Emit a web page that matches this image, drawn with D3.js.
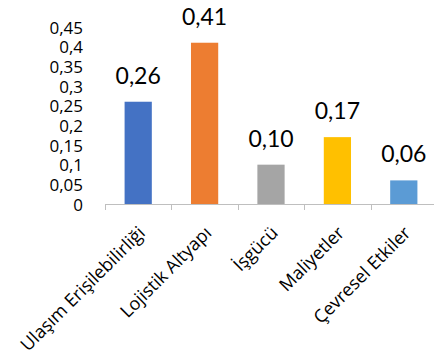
<!DOCTYPE html>
<html>
<head>
<meta charset="utf-8">
<script src="https://cdn.jsdelivr.net/npm/d3@7"></script>
<style>
  html, body { margin: 0; padding: 0; background: #fff; }
  svg { display: block; }
  text { fill: #000; }
</style>
</head>
<body>
<svg id="chart" width="434" height="363"></svg>
<script>
// Criteria and their weights
const categories = ["Ulaşım Erişilebilirliği", "Lojistik Altyapı", "İşgücü", "Maliyetler", "Çevresel Etkiler"];
const values = [0.26, 0.41, 0.10, 0.17, 0.06];
const colors = ["#4472C4", "#ED7D31", "#A5A5A5", "#FFC000", "#5B9BD5"];
const yTicks = [0, 0.05, 0.1, 0.15, 0.2, 0.25, 0.3, 0.35, 0.4, 0.45];

const svg = d3.select("#chart");
const plot = { left: 105, right: 437, top: 27, bottom: 204 };

const x = d3.scaleBand().domain(categories).range([plot.left, plot.right]).padding(0);
const y = d3.scaleLinear().domain([0, 0.45]).range([plot.bottom, plot.top]);

const comma = d => d3.format(".2f")(d).replace(".", ",");
const tickFmt = d => (d === 0 ? "0" : String(+d.toFixed(2)).replace(".", ","));

// Y axis: labels only
const yAxis = svg.append("g")
  .attr("transform", `translate(${plot.left},0)`)
  .call(d3.axisLeft(y).tickValues(yTicks).tickFormat(tickFmt).tickSize(0).tickPadding(22));
yAxis.select(".domain").remove();
yAxis.selectAll("text")
  .style("font-family", "'Open Sans', sans-serif")
  .style("font-size", "17px")
  .attr("dy", "0.36em")
  .attr("fill", "#000");

// Bars
const barW = x.bandwidth() * 0.41;
svg.append("g").selectAll("rect")
  .data(categories)
  .join("rect")
  .attr("x", (d) => x(d) + x.bandwidth() / 2 - barW / 2)
  .attr("y", (d, i) => y(values[i]))
  .attr("width", barW)
  .attr("height", (d, i) => y(0) - y(values[i]))
  .attr("fill", (d, i) => colors[i]);

// Value labels
svg.append("g").selectAll("text")
  .data(categories)
  .join("text")
  .attr("x", (d) => x(d) + x.bandwidth() / 2)
  .attr("y", (d, i) => y(values[i]) - 18)
  .attr("text-anchor", "middle")
  .style("font-family", "Lato, sans-serif")
  .style("font-size", "23px")
  .text((d, i) => comma(values[i]));

// X axis line with ticks at band boundaries
const xAxisG = svg.append("g");
xAxisG.append("line")
  .attr("x1", plot.left).attr("x2", plot.right)
  .attr("y1", plot.bottom + 0.5).attr("y2", plot.bottom + 0.5)
  .attr("stroke", "#BFBFBF").attr("stroke-width", 1);
xAxisG.selectAll("line.tick")
  .data(categories)
  .join("line")
  .attr("class", "tick")
  .attr("x1", (d) => Math.round(x(d)) + 0.5)
  .attr("x2", (d) => Math.round(x(d)) + 0.5)
  .attr("y1", plot.bottom)
  .attr("y2", plot.bottom + 6)
  .attr("stroke", "#BFBFBF");

// Rotated category labels
svg.append("g").selectAll("text")
  .data(categories)
  .join("text")
  .attr("transform", (d) => `translate(${x(d) + x.bandwidth() / 2 + 8},${plot.bottom + 30}) rotate(-45)`)
  .attr("text-anchor", "end")
  .style("font-family", "'Open Sans', sans-serif")
  .style("font-size", "18px")
  .text((d) => d);
</script>
</body>
</html>
